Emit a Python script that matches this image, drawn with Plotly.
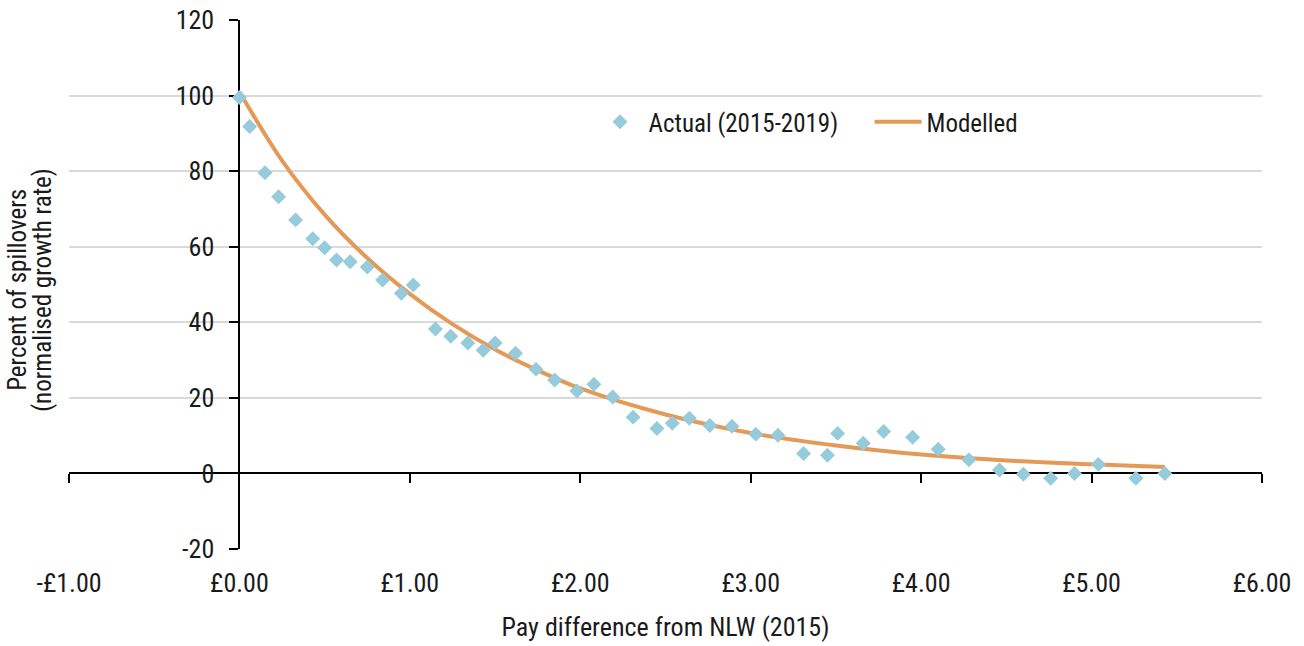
import plotly.graph_objects as go

# Observed spillovers by pay difference from the National Living Wage
pay_diff = [0.00, 0.06, 0.15, 0.23, 0.33, 0.43, 0.50, 0.57, 0.65, 0.75,
            0.84, 0.95, 1.02, 1.15, 1.24, 1.34, 1.43, 1.50, 1.62, 1.74,
            1.85, 1.98, 2.08, 2.19, 2.31, 2.45, 2.54, 2.64, 2.76, 2.89,
            3.03, 3.16, 3.31, 3.45, 3.51, 3.66, 3.78, 3.95, 4.10, 4.28,
            4.46, 4.60, 4.76, 4.90, 5.04, 5.26, 5.43]
actual = [99.5, 91.8, 79.6, 73.2, 67.1, 62.1, 59.7, 56.5, 56.0, 54.6,
          51.2, 47.7, 49.9, 38.2, 36.3, 34.5, 32.6, 34.5, 31.8, 27.6,
          24.7, 21.8, 23.6, 20.2, 14.9, 11.9, 13.3, 14.6, 12.7, 12.5,
          10.4, 10.1, 5.3, 4.8, 10.6, 8.0, 11.1, 9.6, 6.4, 3.6,
          0.9, -0.2, -1.3, 0.0, 2.4, -1.3, 0.0]

# Modelled spillover curve
model_x = [0.00, 0.25, 0.50, 0.75, 1.00, 1.25, 1.50, 1.75, 2.00, 2.50,
           3.00, 3.50, 4.00, 4.50, 5.00, 5.43]
model_y = [101.0, 82.8, 68.5, 57.0, 47.5, 39.5, 32.8, 27.3, 22.5, 15.6,
           10.7, 7.4, 5.0, 3.4, 2.4, 1.7]

x_ticks = [-1, 0, 1, 2, 3, 4, 5, 6]
x_labels = ["-£1.00", "£0.00", "£1.00", "£2.00", "£3.00", "£4.00", "£5.00", "£6.00"]
y_ticks = [-20, 0, 20, 40, 60, 80, 100, 120]
y_labels = ["-20", "0", "20", "40", "60", "80", "100", "120"]

FONT = "Roboto Condensed, Roboto, sans-serif"
TXT = "#1a1a1a"
X_RANGE = [-1, 6]
Y_RANGE = [-20, 120]

fig = go.Figure()

fig.add_trace(go.Scatter(
    x=model_x, y=model_y, mode="lines", name="Modelled",
    line=dict(color="#E59957", width=4, shape="spline"),
    legendrank=2,
))
fig.add_trace(go.Scatter(
    x=pay_diff, y=actual, mode="markers", name="Actual (2015-2019)",
    marker=dict(symbol="diamond", size=11.5, color="#96CBDC"),
    legendrank=1,
))
# carrier for the axis line drawn through y = 0
fig.add_trace(go.Scatter(x=[], y=[], xaxis="x2", showlegend=False, hoverinfo="skip"))

y_zero_pos = (0 - Y_RANGE[0]) / (Y_RANGE[1] - Y_RANGE[0])
x_zero_pos = (0 - X_RANGE[0]) / (X_RANGE[1] - X_RANGE[0])

fig.update_layout(
    width=1304, height=646,
    margin=dict(l=69, r=42, t=20, b=97, autoexpand=False),
    paper_bgcolor="white", plot_bgcolor="white",
    font=dict(family=FONT, size=25, color=TXT),
    showlegend=True,
    legend=dict(
        orientation="h", x=0.438, y=0.807, xanchor="left", yanchor="middle",
        font=dict(family=FONT, size=25, color=TXT), bgcolor="rgba(0,0,0,0)",
        itemwidth=47, entrywidth=216, tracegroupgap=0,
    ),
    xaxis=dict(
        range=X_RANGE, domain=[0, 1], anchor="y", automargin=False,
        tickvals=x_ticks, ticktext=x_labels,
        tickfont=dict(family=FONT, size=26, color=TXT),
        showgrid=False, zeroline=False, showline=False,
        ticks="outside", ticklen=11, tickcolor="rgba(0,0,0,0)",
        title=dict(text="Pay difference from NLW (2015)", standoff=20,
                   font=dict(family=FONT, size=26, color=TXT)),
    ),
    xaxis2=dict(
        range=X_RANGE, overlaying="x", anchor="free", position=y_zero_pos,
        side="bottom", tickvals=x_ticks, showticklabels=False, automargin=False,
        showgrid=False, zeroline=False, showline=True,
        linecolor="black", linewidth=2,
        ticks="outside", ticklen=9, tickwidth=2, tickcolor="black",
        layer="below traces",
    ),
    yaxis=dict(
        range=Y_RANGE, domain=[0, 1], anchor="free", position=x_zero_pos,
        tickvals=y_ticks, ticktext=y_labels, automargin=False,
        tickfont=dict(family=FONT, size=26, color=TXT),
        ticklabelstandoff=10,
        showgrid=True, gridcolor="#d9d9d9", gridwidth=2,
        zeroline=False, showline=True, linecolor="black", linewidth=2,
        ticks="outside", ticklen=9, tickwidth=2, tickcolor="black",
        layer="below traces",
    ),
)

for line_text, xpos in (("Percent of spillovers", -0.0427), ("(normalised growth rate)", -0.0218)):
    fig.add_annotation(
        text=line_text, textangle=-90, showarrow=False,
        xref="paper", yref="paper", x=xpos, y=0.49,
        xanchor="center", yanchor="middle",
        font=dict(family=FONT, size=25, color=TXT),
    )

fig.write_html("out.html")
